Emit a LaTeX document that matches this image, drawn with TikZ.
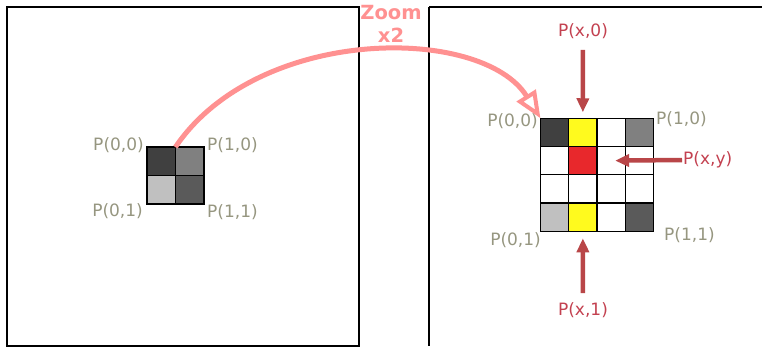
\documentclass[tikz,border=0pt]{standalone}
\usepackage{fontspec}
\setmainfont{DejaVu Sans}
\usetikzlibrary{arrows.meta, positioning}
\definecolor{zoompink}{RGB}{255, 145, 145}
\definecolor{samplered}{RGB}{185, 70, 72}
\definecolor{labelred}{RGB}{195, 65, 80}
\definecolor{cornergray}{RGB}{150, 150, 128}
\definecolor{pxA}{RGB}{64, 64, 64}
\definecolor{pxB}{RGB}{128, 128, 128}
\definecolor{pxC}{RGB}{192, 192, 192}
\definecolor{pxD}{RGB}{90, 90, 90}
\definecolor{interpyellow}{RGB}{255, 250, 30}
\definecolor{interpred}{RGB}{232, 40, 44}

\begin{document}
\begin{tikzpicture}[x=1pt, y=-1pt,
    cell/.style={draw=black, line width=1.4pt, minimum size=28.3pt,
      inner sep=0pt, outer sep=0pt},
    corner/.style={font=\fontsize{17}{20}\selectfont, text=cornergray, inner sep=1pt},
    sample/.style={font=\fontsize{17}{20}\selectfont, text=labelred, inner sep=1pt},
    samplearrow/.style={-{Triangle[length=14pt, width=12pt]}, line width=4.5pt, samplered}]
  \useasboundingbox (0,0) rectangle (762,346);

  % --- source image ---
  \draw[line width=1.2pt] (7,7) rectangle (359,346);
  \foreach \c/\r/\col in {0/0/pxA, 1/0/pxB, 0/1/pxC, 1/1/pxD}
    \node[cell, fill=\col] (L\c\r) at ({161.25+28.5*\c}, {161.25+28.5*\r}) {};
  \node[corner, anchor=east] (l00) at (145,145) {P(0,0)};
  \node[corner, anchor=west] (l10) at (206,145) {P(1,0)};
  \node[corner, anchor=east] (l01) at (144,211) {P(0,1)};
  \node[corner, anchor=west] (l11) at (206,212) {P(1,1)};

  % --- zoomed image ---
  \draw[line width=1.2pt] (429,7) -- (762,7);
  \draw[line width=1.2pt] (429,7) -- (429,346);
  \foreach \c/\r/\col in {0/0/pxA, 1/0/interpyellow, 2/0/white, 3/0/pxB,
      0/1/white, 1/1/interpred, 2/1/white, 3/1/white,
      0/2/white, 1/2/white, 2/2/white, 3/2/white,
      0/3/pxC, 1/3/interpyellow, 2/3/white, 3/3/pxD}
    \node[cell, fill=\col] (R\c\r) at ({554.6+28.25*\c}, {132.4+28.25*\r}) {};
  \node[corner, anchor=east] (r00) at (539,121) {P(0,0)};
  \node[corner, anchor=west] (r10) at (655,119) {P(1,0)};
  \node[corner, anchor=east] (r01) at (542,240) {P(0,1)};
  \node[corner, anchor=west] (r11) at (663,235) {P(1,1)};

  % interpolated samples
  \node[sample] (sx0) at (583,31) {P(x,0)};
  \node[sample] (sx1) at (583,310) {P(x,1)};
  \node[sample, anchor=west] (sxy) at (682,160) {P(x,y)};
  \draw[samplearrow, shorten <=10pt, shorten >=6pt] (sx0.south) -- (R10.north);
  \draw[samplearrow, shorten <=8pt, shorten >=7pt] (sx1.north) -- (R13.south);
  \draw[samplearrow, shorten >=4pt] (sxy.west) -- (R21.center);

  % zoom arrow
  \node[font=\bfseries\fontsize{19.5}{23}\selectfont, text=zoompink, align=center,
    inner sep=0pt] (zoom) at (391,24) {Zoom\\x2};
  \draw[zoompink, line width=5pt, -{Triangle[open, length=27pt, width=22pt, line width=4pt]}]
    (L00.north east) .. controls (258,25) and (482,25) .. (R00.north west);
\end{tikzpicture}
\end{document}
